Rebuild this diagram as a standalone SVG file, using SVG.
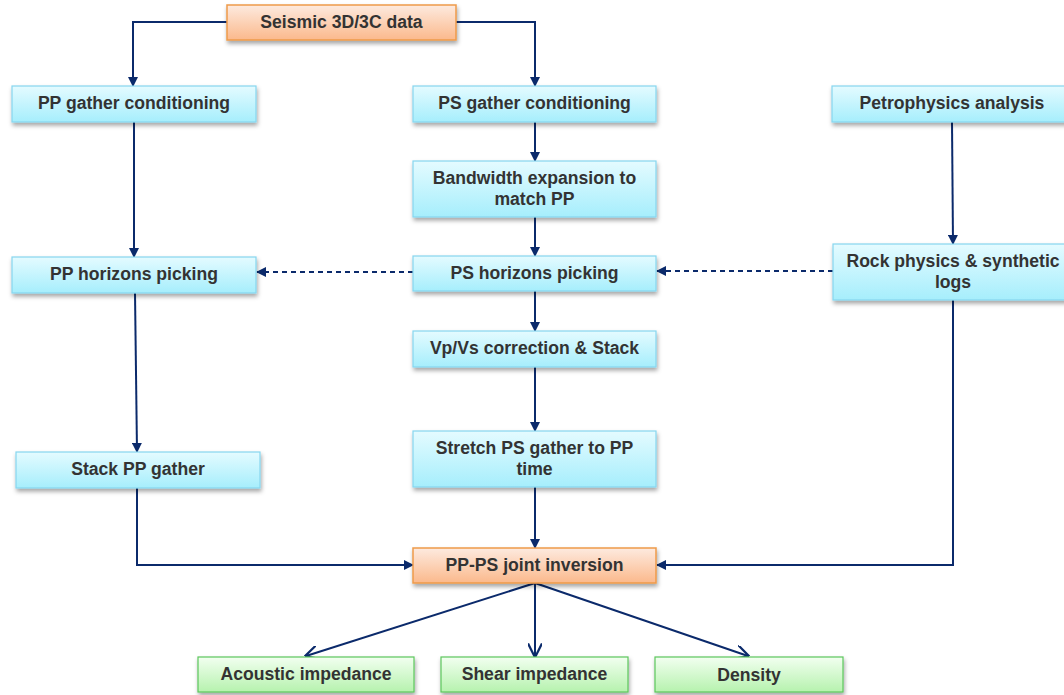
<svg xmlns="http://www.w3.org/2000/svg" width="1064" height="695" viewBox="0 0 1064 695">
<defs>
<linearGradient id="gb" x1="0" y1="0" x2="0" y2="1"><stop offset="0" stop-color="#e4fbff"/><stop offset="1" stop-color="#a6eefc"/></linearGradient>
<linearGradient id="go" x1="0" y1="0" x2="0" y2="1"><stop offset="0" stop-color="#fdeadf"/><stop offset="1" stop-color="#fbb98c"/></linearGradient>
<linearGradient id="gg" x1="0" y1="0" x2="0" y2="1"><stop offset="0" stop-color="#f2fff0"/><stop offset="1" stop-color="#b6f2ae"/></linearGradient>
<filter id="sh" x="-10%" y="-20%" width="120%" height="160%"><feDropShadow dx="1" dy="3" stdDeviation="2" flood-color="#000" flood-opacity="0.35"/></filter>
<marker id="ar" viewBox="0 0 10 10" refX="9" refY="5" markerWidth="10" markerHeight="10" markerUnits="userSpaceOnUse" orient="auto"><path d="M0,0 L10,5 L0,10 z" fill="#0b2a6b"/></marker>
<marker id="av" viewBox="0 0 10 10" refX="9" refY="5" markerWidth="14" markerHeight="14" markerUnits="userSpaceOnUse" orient="auto"><path d="M0,0 L10,5 L0,10" fill="none" stroke="#0b2a6b" stroke-width="1.6"/></marker>
</defs>
<style>
.b{fill:url(#gb);stroke:#86d6ef;stroke-width:1.2;filter:url(#sh)}
.o{fill:url(#go);stroke:#ee9a4a;stroke-width:1.5;filter:url(#sh)}
.g{fill:url(#gg);stroke:#5cc65c;stroke-width:1.2;filter:url(#sh)}
text{font-family:"Liberation Sans",Arial,sans-serif;font-weight:bold;font-size:17.6px;fill:#333;text-anchor:middle}
.c path{fill:none;stroke:#0b2a6b;stroke-width:2}
.c .d{stroke-dasharray:5,4}
</style>
<rect width="1064" height="695" fill="#fff"/>
<g class="c">
<path d="M227,22 H133 V86" marker-end="url(#ar)"/>
<path d="M456,22 H535 V86" marker-end="url(#ar)"/>
<path d="M134,122 V257" marker-end="url(#ar)"/>
<path d="M535,122 V161" marker-end="url(#ar)"/>
<path d="M535,217 V256" marker-end="url(#ar)"/>
<path class="d" d="M413,272 H257" marker-end="url(#ar)"/>
<path class="d" d="M833,271 H657" marker-end="url(#ar)"/>
<path d="M952,122 L953,244" marker-end="url(#ar)"/>
<path d="M135,293 L137,452" marker-end="url(#ar)"/>
<path d="M535,291 V331" marker-end="url(#ar)"/>
<path d="M535,367 V431" marker-end="url(#ar)"/>
<path d="M535,487 V548" marker-end="url(#ar)"/>
<path d="M137,488 V565 H413" marker-end="url(#ar)"/>
<path d="M953,300 V565 H657" marker-end="url(#ar)"/>
<path d="M535,583 L306,656" marker-end="url(#av)"/>
<path d="M535,583 V656" marker-end="url(#av)"/>
<path d="M535,583 L748,656" marker-end="url(#av)"/>
</g>
<g id="seismic"><rect class="o" x="227" y="5" width="229" height="35"/><text x="341.5" y="28">Seismic 3D/3C data</text></g>
<g id="pp-cond"><rect class="b" x="12" y="86" width="244" height="36"/><text x="134" y="109">PP gather conditioning</text></g>
<g id="ps-cond"><rect class="b" x="413" y="86" width="243" height="36"/><text x="534.5" y="109">PS gather conditioning</text></g>
<g id="petro"><rect class="b" x="832" y="86" width="240" height="36"/><text x="952" y="109">Petrophysics analysis</text></g>
<g id="bandwidth"><rect class="b" x="413" y="161" width="243" height="56"/><text x="534.5" y="184">Bandwidth expansion to</text><text x="534.5" y="205">match PP</text></g>
<g id="pp-horizons"><rect class="b" x="12" y="257" width="244" height="36"/><text x="134" y="280">PP horizons picking</text></g>
<g id="ps-horizons"><rect class="b" x="413" y="256" width="243" height="35"/><text x="534.5" y="279">PS horizons picking</text></g>
<g id="rock"><rect class="b" x="833" y="244" width="240" height="56"/><text x="953" y="267">Rock physics &amp; synthetic</text><text x="953" y="288">logs</text></g>
<g id="vpvs"><rect class="b" x="413" y="331" width="243" height="36"/><text x="534.5" y="354">Vp/Vs correction &amp; Stack</text></g>
<g id="stack-pp"><rect class="b" x="16" y="452" width="244" height="36"/><text x="138" y="475">Stack PP gather</text></g>
<g id="stretch"><rect class="b" x="413" y="431" width="243" height="56"/><text x="534.5" y="454">Stretch PS gather to PP</text><text x="534.5" y="475">time</text></g>
<g id="joint"><rect class="o" x="413" y="548" width="243" height="35"/><text x="534.5" y="571">PP-PS joint inversion</text></g>
<g id="acoustic"><rect class="g" x="198" y="657" width="216" height="35"/><text x="306" y="680">Acoustic impedance</text></g>
<g id="shear"><rect class="g" x="441" y="657" width="187" height="35"/><text x="534.5" y="680">Shear impedance</text></g>
<g id="density"><rect class="g" x="655" y="657" width="188" height="35"/><text x="749" y="681">Density</text></g>
</svg>
